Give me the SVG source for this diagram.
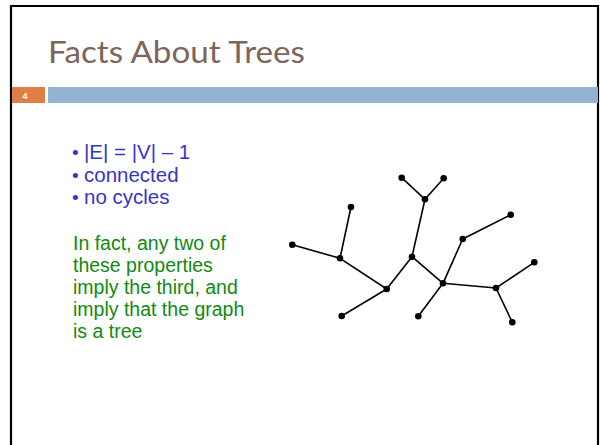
<svg xmlns="http://www.w3.org/2000/svg" width="600" height="445" viewBox="0 0 600 445">
<style>
.title{font-family:Lato,"Open Sans","Liberation Sans",sans-serif;font-size:31px;fill:#7B655C}
.bl{font-family:"Liberation Sans",Arial,sans-serif;font-size:20.5px;fill:#3535CC}
.dot{font-family:"Liberation Sans",Arial,sans-serif;font-size:19px;fill:#3535CC}
.gr{font-family:"Liberation Sans",Arial,sans-serif;font-size:19.5px;fill:#118A11}
.e{stroke:#000;stroke-width:1.6;fill:none}
.n{fill:#000}
</style>
<rect x="0" y="0" width="600" height="445" fill="#fff"/>
<path d="M11,450 V6 H598 V450" fill="none" stroke="#000" stroke-width="2.2"/>
<rect x="12" y="87" width="33" height="16" fill="#E07F45"/>
<rect x="48" y="87" width="550" height="16" fill="#93B3D2"/>
<text x="25" y="99" font-family="Liberation Sans,Arial,sans-serif" font-size="9" font-weight="bold" fill="#fff" text-anchor="middle">4</text>
<text class="title" x="48" y="63" textLength="257" lengthAdjust="spacingAndGlyphs">Facts About Trees</text>
<g id="bullets">
<text class="dot" x="72" y="159">•</text>
<text class="bl" x="84" y="159">|E| = |V| – 1</text>
<text class="dot" x="72" y="182">•</text>
<text class="bl" x="84" y="182">connected</text>
<text class="dot" x="72" y="204">•</text>
<text class="bl" x="84" y="204">no cycles</text>
</g>
<g id="note">
<text class="gr" x="73" y="250">In fact, any two of</text>
<text class="gr" x="73" y="272">these properties</text>
<text class="gr" x="73" y="294">imply the third, and</text>
<text class="gr" x="73" y="316">imply that the graph</text>
<text class="gr" x="73" y="338">is a tree</text>
</g>
<g id="connectors">
<line class="e" x1="401.7" y1="177.7" x2="425" y2="199.3"/>
<line class="e" x1="443.7" y1="178.3" x2="425" y2="199.3"/>
<line class="e" x1="425" y1="199.3" x2="412" y2="256.7"/>
<line class="e" x1="351" y1="207" x2="340" y2="258.3"/>
<line class="e" x1="292.3" y1="244.7" x2="340" y2="258.3"/>
<line class="e" x1="340" y1="258.3" x2="386.7" y2="289"/>
<line class="e" x1="386.7" y1="289" x2="412" y2="256.7"/>
<line class="e" x1="386.7" y1="289" x2="341.7" y2="316"/>
<line class="e" x1="412" y1="256.7" x2="443" y2="283.3"/>
<line class="e" x1="443" y1="283.3" x2="462.7" y2="239"/>
<line class="e" x1="462.7" y1="239" x2="510.7" y2="214.7"/>
<line class="e" x1="443" y1="283.3" x2="418.3" y2="316.3"/>
<line class="e" x1="443" y1="283.3" x2="496" y2="288"/>
<line class="e" x1="496" y1="288" x2="534.3" y2="262.3"/>
<line class="e" x1="496" y1="288" x2="512.3" y2="322.3"/>
</g>
<g id="n1"><circle class="n" cx="401.7" cy="177.7" r="3.3"/></g>
<g id="n2"><circle class="n" cx="443.7" cy="178.3" r="3.3"/></g>
<g id="n3"><circle class="n" cx="425" cy="199.3" r="3.3"/></g>
<g id="n4"><circle class="n" cx="351" cy="207" r="3.3"/></g>
<g id="n5"><circle class="n" cx="510.7" cy="214.7" r="3.3"/></g>
<g id="n6"><circle class="n" cx="292.3" cy="244.7" r="3.3"/></g>
<g id="n7"><circle class="n" cx="462.7" cy="239" r="3.3"/></g>
<g id="n8"><circle class="n" cx="340" cy="258.3" r="3.3"/></g>
<g id="n9"><circle class="n" cx="412" cy="256.7" r="3.3"/></g>
<g id="n10"><circle class="n" cx="534.3" cy="262.3" r="3.3"/></g>
<g id="n11"><circle class="n" cx="443" cy="283.3" r="3.3"/></g>
<g id="n12"><circle class="n" cx="386.7" cy="289" r="3.3"/></g>
<g id="n13"><circle class="n" cx="496" cy="288" r="3.3"/></g>
<g id="n14"><circle class="n" cx="341.7" cy="316" r="3.3"/></g>
<g id="n15"><circle class="n" cx="418.3" cy="316.3" r="3.3"/></g>
<g id="n16"><circle class="n" cx="512.3" cy="322.3" r="3.3"/></g>
</svg>
